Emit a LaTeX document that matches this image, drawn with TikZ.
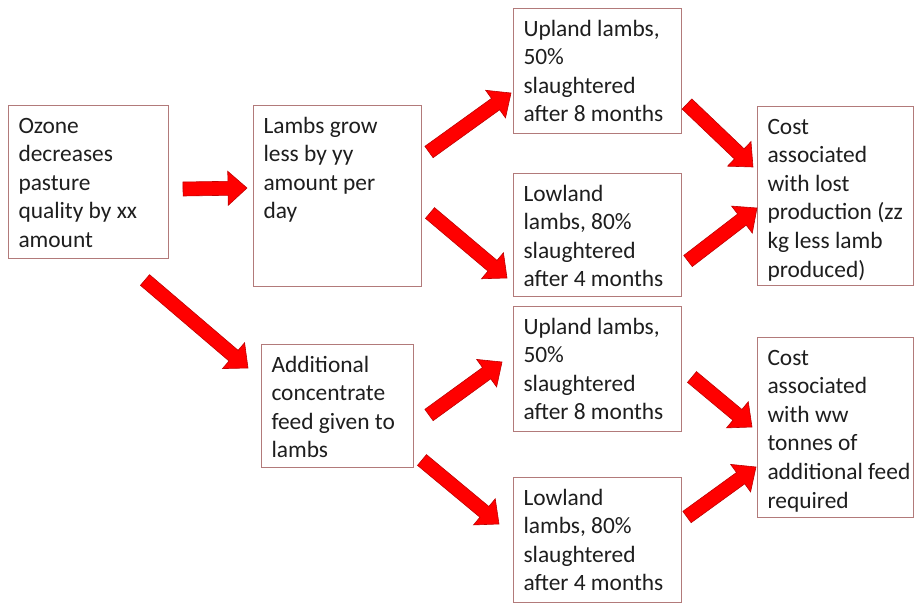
\documentclass[tikz,border=0pt]{standalone}
\usepackage{fontspec}
\setmainfont{Carlito}
\usetikzlibrary{calc}
\definecolor{boxline}{RGB}{178,122,122}
\definecolor{txt}{RGB}{30,30,30}
\definecolor{arrfill}{RGB}{255,0,0}
\definecolor{arrline}{RGB}{190,0,0}
\newcommand\bxt[3]{\parbox[t][#2][t]{#1}{\raggedright\leftskip=10pt\rule{0pt}{27.5pt}#3}}
\newcommand\barrow[2]{%
  \coordinate (hb) at ($(#2)!19pt!(#1)$);
  \filldraw[blockarr] ($(#1)!7pt!90:(#2)$) -- ($(hb)!7pt!90:(#2)$) -- ($(hb)!17pt!90:(#2)$) -- (#2)
    -- ($(hb)!17pt!-90:(#2)$) -- ($(hb)!7pt!-90:(#2)$) -- ($(#1)!7pt!-90:(#2)$) -- cycle;}
\tikzset{
  bx/.style={draw=boxline, line width=1pt, fill=white, inner sep=0pt, anchor=north west,
    text=txt, font=\fontsize{23.4}{28.6}\selectfont},
  blockarr/.style={fill=arrfill, draw=arrline, line width=0.6pt, line join=miter}
}
\begin{document}
\begin{tikzpicture}[x=1pt,y=-1pt]
\useasboundingbox (0,0) rectangle (914,603);
% boxes
\node[bx] (A) at (8,105) {\bxt{160pt}{153pt}{Ozone\\decreases\\pasture\\quality by xx\\amount}};
\node[bx] (B) at (253,105) {\bxt{168pt}{181pt}{Lambs grow\\less by yy\\amount per\\day}};
\node[bx] (C) at (513,8) {\bxt{168pt}{125pt}{Upland lambs,\\50\%\\slaughtered\\after 8 months}};
\node[bx] (D) at (513,173) {\bxt{168pt}{123pt}{Lowland\\lambs, 80\%\\slaughtered\\after 4 months}};
\node[bx] (E) at (757,106) {\bxt{156pt}{179pt}{Cost\\associated\\with lost\\production (zz\\kg less lamb\\produced)}};
\node[bx] (F) at (261,344) {\bxt{152pt}{123pt}{Additional\\concentrate\\feed given to\\lambs}};
\node[bx] (G) at (513,306) {\bxt{168pt}{125pt}{Upland lambs,\\50\%\\slaughtered\\after 8 months}};
\node[bx] (H) at (513,477) {\bxt{168pt}{125pt}{Lowland\\lambs, 80\%\\slaughtered\\after 4 months}};
\node[bx] (I) at (757,337) {\bxt{156pt}{180pt}{Cost\\associated\\with ww\\tonnes of\\additional feed\\required}};
% arrow end points
\coordinate (s1) at (183,189);   \coordinate (e1) at (247,188);
\coordinate (s2) at (145,280);   \coordinate (e2) at (248,368);
\coordinate (s3) at (429,152);   \coordinate (e3) at (511,93);
\coordinate (s4) at (430,213);   \coordinate (e4) at (507,278);
\coordinate (s5) at (687,104);   \coordinate (e5) at (753,167);
\coordinate (s6) at (688,261);   \coordinate (e6) at (757,208);
\coordinate (s7) at (692,377);   \coordinate (e7) at (752,427);
\coordinate (s8) at (687,517);   \coordinate (e8) at (756,467);
\coordinate (s9) at (429,415);   \coordinate (e9) at (502,362);
\coordinate (s10) at (422,460);  \coordinate (e10) at (499,524);
\barrow{s1}{e1}
\barrow{s2}{e2}
\barrow{s3}{e3}
\barrow{s4}{e4}
\barrow{s5}{e5}
\barrow{s6}{e6}
\barrow{s7}{e7}
\barrow{s8}{e8}
\barrow{s9}{e9}
\barrow{s10}{e10}
\end{tikzpicture}
\end{document}
